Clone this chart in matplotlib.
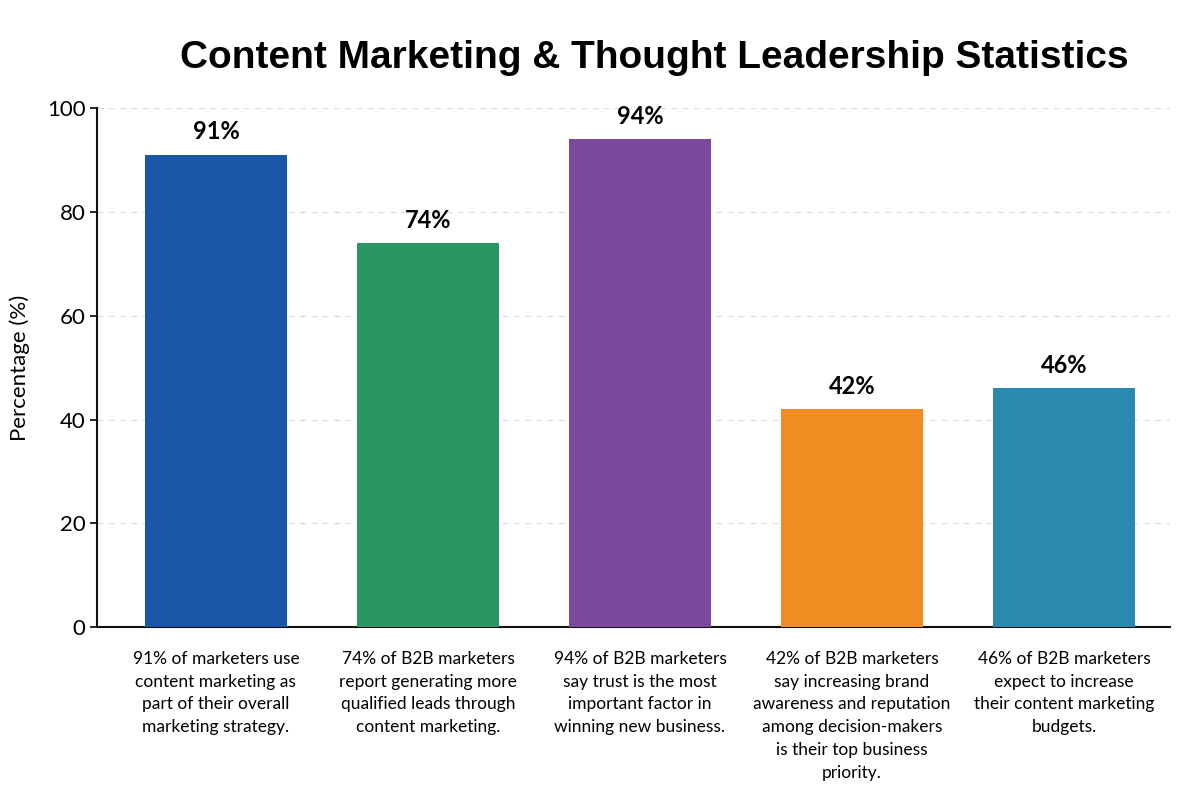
import matplotlib
matplotlib.use('Agg')
import matplotlib.pyplot as plt

plt.rcParams['font.family'] = ['Lato', 'DejaVu Sans']

# data
labels = [
    "91% of marketers use\ncontent marketing as\npart of their overall\nmarketing strategy.",
    "74% of B2B marketers\nreport generating more\nqualified leads through\ncontent marketing.",
    "94% of B2B marketers\nsay trust is the most\nimportant factor in\nwinning new business.",
    "42% of B2B marketers\nsay increasing brand\nawareness and reputation\namong decision-makers\nis their top business\npriority.",
    "46% of B2B marketers\nexpect to increase\ntheir content marketing\nbudgets.",
]
values = [91, 74, 94, 42, 46]
colors = ['#1c56a8', '#2a9563', '#7b4a9d', '#f08c22', '#2a89ae']
yticks = [0, 20, 40, 60, 80, 100]

fig = plt.figure(figsize=(12, 8), dpi=100)
ax = fig.add_axes([0.081, 0.216, 0.894, 0.649])

x = list(range(len(values)))
bars = ax.bar(x, values, width=0.67, color=colors, zorder=3)

for b, v in zip(bars, values):
    ax.text(b.get_x() + b.get_width() / 2, v + 2.2, f"{v}%",
            ha='center', va='bottom', fontsize=17, fontweight='bold')

ax.set_xlim(-0.56, 4.5)
ax.set_ylim(0, 100)
ax.set_yticks(yticks)
ax.tick_params(axis='y', labelsize=16, length=5, width=1.2)
ax.set_xticks(x)
ax.set_xticklabels(labels, fontsize=12.5, linespacing=1.52)
ax.tick_params(axis='x', length=0, pad=17)
ax.set_ylabel("Percentage (%)", fontsize=16, labelpad=12)

ax.yaxis.grid(True, linestyle=(0, (5, 4)), color='#dddddd', linewidth=0.9, zorder=0)
for s in ['top', 'right']:
    ax.spines[s].set_visible(False)
for s in ['left', 'bottom']:
    ax.spines[s].set_linewidth(1.5)
    ax.spines[s].set_color('#111111')

fig.text(0.545, 0.928, "Content Marketing & Thought Leadership Statistics",
         ha='center', va='center', fontsize=28, fontweight='bold',
         family=['Liberation Sans', 'DejaVu Sans'])

fig.savefig('out.png', dpi=100, facecolor='white')
